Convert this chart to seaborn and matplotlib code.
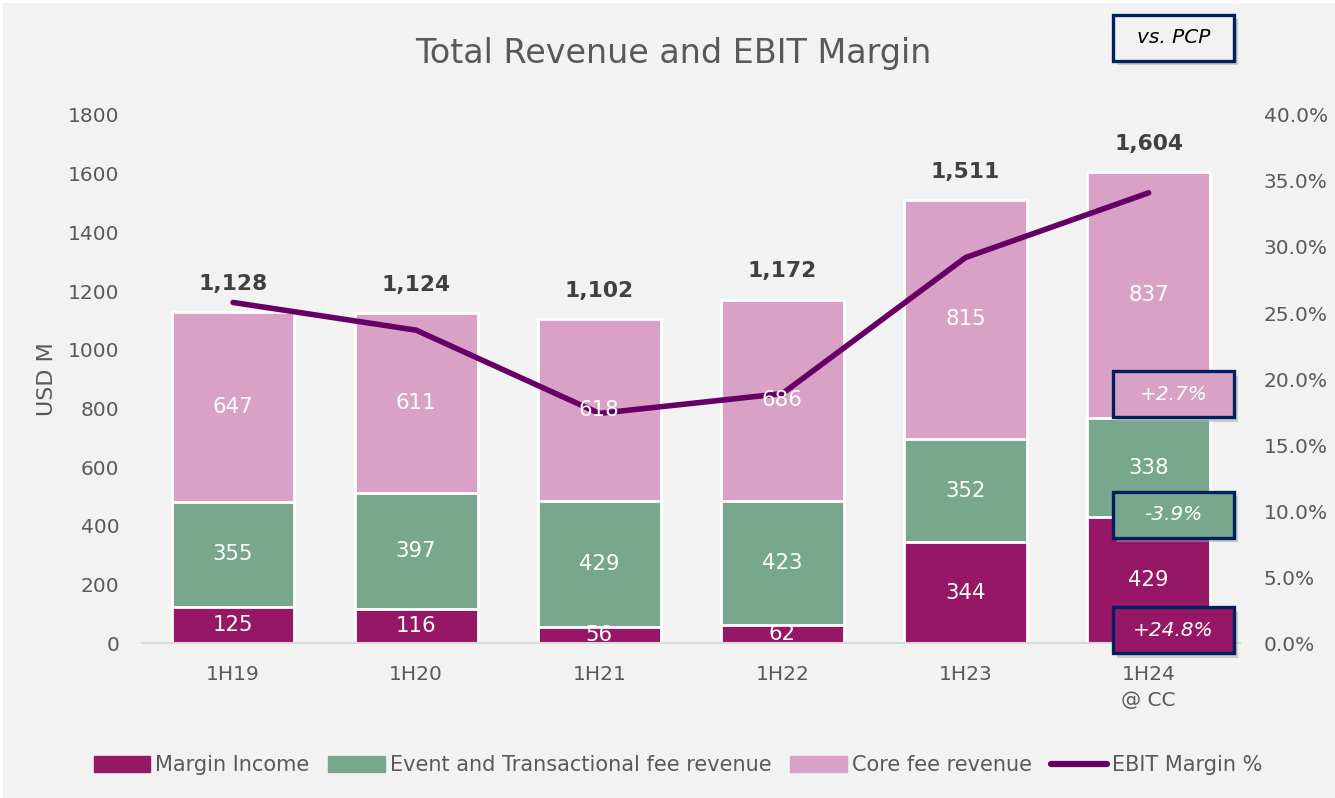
import numpy as np
import pandas as pd
import seaborn as sns
import matplotlib.pyplot as plt
from matplotlib.patches import Rectangle
from matplotlib.lines import Line2D
from matplotlib.patches import Patch

# chart data
periods = ["1H19", "1H20", "1H21", "1H22", "1H23", "1H24\n@ CC"]
margin_income = [125, 116, 56, 62, 344, 429]
event_fee = [355, 397, 429, 423, 352, 338]
core_fee = [647, 611, 618, 686, 815, 837]
totals = ["1,128", "1,124", "1,102", "1,172", "1,511", "1,604"]
ebit_margin = [25.8, 23.7, 17.4, 18.9, 29.2, 34.1]
pcp_labels = ["+2.7%", "-3.9%", "+24.8%"]

c_margin = "#951766"
c_event = "#79A78D"
c_core = "#D9A1C6"
c_line = "#660066"
c_text = "#595959"
c_bg = "#F2F2F2"
c_navy = "#002060"

sns.set_style("white")
plt.rcParams["font.family"] = ["DejaVu Sans"]

df = pd.DataFrame({"period": periods, "margin": margin_income,
                   "event": event_fee, "core": core_fee})
df["lvl1"] = df["margin"]
df["lvl2"] = df["margin"] + df["event"]
df["lvl3"] = df["lvl2"] + df["core"]

fig = plt.figure(figsize=(13.35, 7.98), dpi=100, facecolor="white")
fig.patches.append(Rectangle((3 / 1335, 0), 1, 1 - 3 / 798, transform=fig.transFigure,
                             facecolor=c_bg, edgecolor="none", zorder=-10))
ax = fig.add_axes([0.106, 0.194, 0.823, 0.662])
ax.set_facecolor(c_bg)

# stacked bars (drawn as overlapping cumulative bars)
for col, colr in [("lvl3", c_core), ("lvl2", c_event), ("lvl1", c_margin)]:
    sns.barplot(data=df, x="period", y=col, color=colr, width=0.67,
                edgecolor="white", linewidth=2, saturation=1, ax=ax, zorder=2)

ax.set_xlim(-0.5, 5.5)
ax.set_ylim(0, 1800)
ax.set_yticks(range(0, 1801, 200))
ax.set_xlabel("")
ax.set_ylabel("USD M", fontsize=16, color=c_text, labelpad=8)
ax.tick_params(axis="both", labelsize=14.5, colors=c_text, length=0)
ax.tick_params(axis="x", pad=16)
ax.tick_params(axis="y", pad=16)
for lbl in ax.get_xticklabels():
    lbl.set_linespacing(1.45)
for s in ["top", "right", "left"]:
    ax.spines[s].set_visible(False)
ax.spines["bottom"].set_color("#D9D9D9")
ax.spines["bottom"].set_linewidth(1.5)

# EBIT margin line on right axis
ax2 = ax.twinx()
sns.lineplot(x=np.arange(len(periods)), y=ebit_margin, color=c_line, linewidth=4,
             ax=ax2, solid_capstyle="round")
ax2.set_ylim(0, 40)
ax2.set_yticks(range(0, 41, 5))
ax2.set_yticklabels([f"{v:.1f}%" for v in range(0, 41, 5)])
ax2.tick_params(axis="y", labelsize=14.5, colors=c_text, length=0, pad=17)
for s in ["top", "right", "left", "bottom"]:
    ax2.spines[s].set_visible(False)

# segment labels (drawn above the line)
for i in range(len(periods)):
    ax2.text(i, df["lvl1"][i] / 2, str(margin_income[i]), ha="center", va="center",
             color="white", fontsize=15.3, zorder=5, transform=ax.transData)
    ax2.text(i, df["lvl1"][i] + event_fee[i] / 2, str(event_fee[i]), ha="center",
             va="center", color="white", fontsize=15.3, zorder=5, transform=ax.transData)
    ax2.text(i, df["lvl2"][i] + core_fee[i] / 2, str(core_fee[i]), ha="center",
             va="center", color="white", fontsize=15.3, zorder=5, transform=ax.transData)
    ax2.text(i, df["lvl3"][i] + 62, totals[i], ha="center", va="bottom",
             color="#404040", fontsize=15.7, fontweight="bold", zorder=5,
             transform=ax.transData)

fig.text(0.504, 0.933, "Total Revenue and EBIT Margin", ha="center", va="center",
         fontsize=24, color=c_text)

# legend
handles = [Patch(color=c_margin, label="Margin Income"),
           Patch(color=c_event, label="Event and Transactional fee revenue"),
           Patch(color=c_core, label="Core fee revenue"),
           Line2D([0], [0], color=c_line, lw=4.5, label="EBIT Margin %")]
fig.legend(handles=handles, loc="center", bbox_to_anchor=(0.508, 0.041), ncol=4,
           frameon=False, fontsize=15, labelcolor=c_text, handlelength=2.7,
           handleheight=0.8, columnspacing=0.9, handletextpad=0.25)


# vs. PCP boxes
def box(cy, face, label, tcolor):
    w, h = 121 / 1335, 46 / 798
    x0, y0 = 0.879 - w / 2, cy - h / 2
    fig.patches.append(Rectangle((x0 + 0.003, y0 - 0.006), w, h, transform=fig.transFigure,
                                 facecolor="#A6A6A6", edgecolor="none", alpha=0.5, zorder=8))
    fig.patches.append(Rectangle((x0, y0), w, h, transform=fig.transFigure,
                                 facecolor=face, edgecolor=c_navy, linewidth=2.4, zorder=9))
    fig.text(0.879, cy, label, ha="center", va="center", fontsize=14.5,
             style="italic", color=tcolor, zorder=10)


box(0.953, c_bg, "vs. PCP", "black")
box(0.506, c_core, pcp_labels[0], "white")
box(0.355, c_event, pcp_labels[1], "white")
box(0.210, c_margin, pcp_labels[2], "white")

fig.savefig("out.png", dpi=100, facecolor=fig.get_facecolor())
